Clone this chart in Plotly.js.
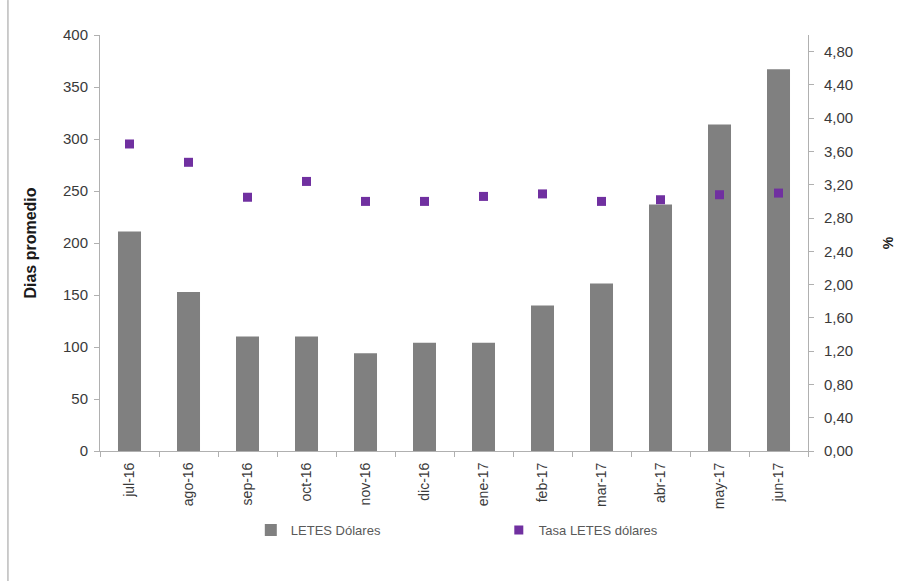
<!DOCTYPE html>
<html>
<head>
<meta charset="utf-8">
<script src="https://cdn.plot.ly/plotly-3.0.1.min.js"></script>
<style>
  html, body { margin: 0; padding: 0; background: #fff; }
  #chart { width: 898px; height: 581px; }
</style>
</head>
<body>
<div id="chart"></div>
<script>
// Months (Spanish abbreviations)
const months = ["jul-16", "ago-16", "sep-16", "oct-16", "nov-16", "dic-16",
                "ene-17", "feb-17", "mar-17", "abr-17", "may-17", "jun-17"];

// Average days to maturity of LETES in dollars
const diasPromedio = [211, 153, 110, 110, 94, 104, 104, 140, 161, 237, 314, 367];

// LETES dollar rate (%)
const tasaLetes = [3.69, 3.47, 3.05, 3.24, 3.00, 3.00, 3.06, 3.09, 3.00, 3.02, 3.08, 3.10];

// Right axis tick values
const tasaTicks = [0, 0.4, 0.8, 1.2, 1.6, 2.0, 2.4, 2.8, 3.2, 3.6, 4.0, 4.4, 4.8];

const font = "Liberation Sans, Arial, sans-serif";
const textColor = "#3a3a3a";
const axisColor = "#b0b0b0";

const traces = [
  {
    type: "bar",
    name: "LETES Dólares",
    x: months,
    y: diasPromedio,
    marker: { color: "#808080" },
    yaxis: "y"
  },
  {
    type: "scatter",
    mode: "markers",
    name: "Tasa LETES dólares",
    x: months,
    y: tasaLetes,
    marker: { symbol: "square", size: 9, color: "#7030a0" },
    yaxis: "y2"
  }
];

const layout = {
  width: 898,
  height: 581,
  margin: { l: 100, r: 90, t: 35, b: 130 },
  paper_bgcolor: "#ffffff",
  plot_bgcolor: "#ffffff",
  font: { family: font, size: 13, color: textColor },
  bargap: 0.61,
  separators: ",.",
  showlegend: true,
  legend: {
    orientation: "h",
    x: 0.213, xanchor: "left",
    y: -0.19, yanchor: "middle",
    font: { family: font, size: 13, color: "#595959" },
    entrywidth: 203,
    entrywidthmode: "pixels",
    itemwidth: 30,
    traceorder: "normal"
  },
  xaxis: {
    type: "category",
    range: [-0.5, 11.5],
    showline: true,
    linecolor: axisColor,
    linewidth: 1,
    ticks: "outside",
    tickson: "boundaries",
    ticklen: 5,
    tickcolor: axisColor,
    tickangle: -90,
    ticklabelstandoff: 5,
    tickfont: { family: font, size: 14, color: textColor },
    showgrid: false,
    zeroline: false
  },
  yaxis: {
    range: [0, 400],
    dtick: 50,
    showline: true,
    linecolor: axisColor,
    ticks: "outside",
    ticklen: 5,
    tickcolor: axisColor,
    ticklabelstandoff: 3,
    showgrid: false,
    zeroline: false,
    tickfont: { family: font, size: 15, color: textColor },
    title: { text: "Dias promedio", font: { family: font, size: 16, color: "#1a1a1a", weight: "bold" }, standoff: 22 }
  },
  yaxis2: {
    overlaying: "y",
    side: "right",
    range: [0, 5.0],
    tickvals: tasaTicks,
    tickformat: ".2f",
    showline: true,
    linecolor: axisColor,
    ticks: "outside",
    ticklen: 5,
    tickcolor: axisColor,
    ticklabelstandoff: 7,
    showgrid: false,
    zeroline: false,
    tickfont: { family: font, size: 15, color: textColor },
    title: { text: "%", font: { family: font, size: 14, color: "#1a1a1a", weight: "bold" }, standoff: 30 }
  },
  shapes: [
    {
      type: "line", xref: "paper", yref: "paper",
      x0: -0.13, x1: -0.13, y0: -0.3125, y1: 1.084,
      line: { color: "#9a9a9a", width: 1 }
    }
  ]
};

Plotly.newPlot("chart", traces, layout, { displayModeBar: false, staticPlot: true });
</script>
</body>
</html>
